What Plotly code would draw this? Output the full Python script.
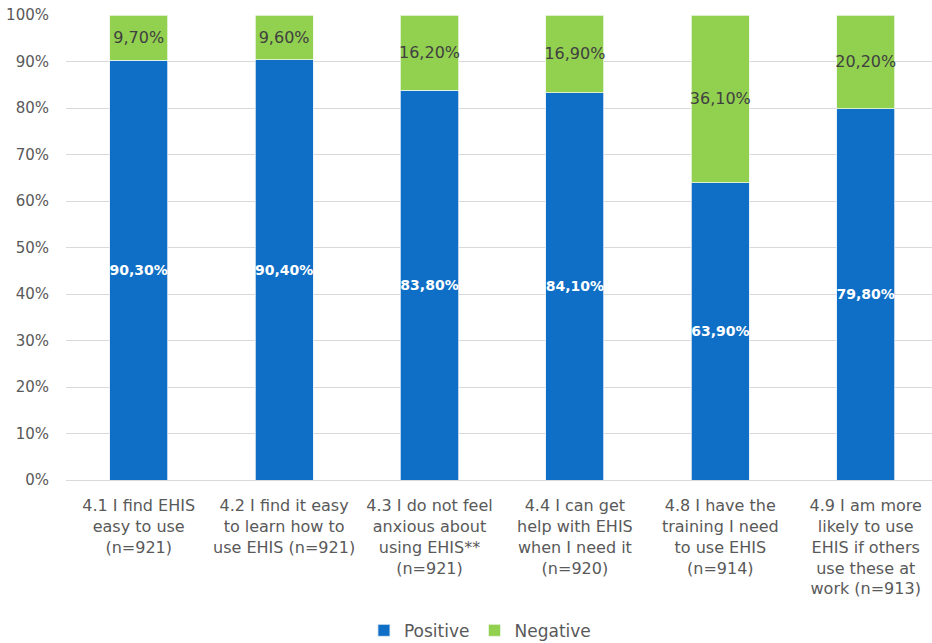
import plotly.graph_objects as go

categories = [
    "4.1 I find EHIS<br>easy to use<br>(n=921)",
    "4.2 I find it easy<br>to learn how to<br>use EHIS (n=921)",
    "4.3 I do not feel<br>anxious about<br>using EHIS**<br>(n=921)",
    "4.4 I can get<br>help with EHIS<br>when I need it<br>(n=920)",
    "4.8 I have the<br>training I need<br>to use EHIS<br>(n=914)",
    "4.9 I am more<br>likely to use<br>EHIS if others<br>use these at<br>work (n=913)",
]
positive = [90.3, 90.4, 83.8, 84.1, 63.9, 79.8]
negative = [9.7, 9.6, 16.2, 16.9, 36.1, 20.2]
y_ticks = [0, 10, 20, 30, 40, 50, 60, 70, 80, 90, 100]

FONT = "DejaVu Sans"


def pct_label(v):
    return f"{v:.2f}".replace(".", ",") + "%"


fig = go.Figure()
fig.add_trace(go.Bar(
    name="Positive",
    x=categories,
    y=positive,
    marker=dict(color="#0F6FC6", line=dict(color="#e6eef8", width=0.8)),
    text=[pct_label(v) for v in positive],
    textposition="inside",
    insidetextanchor="middle",
    textangle=0,
    constraintext="none",
    textfont=dict(family=FONT, size=14, color="white", weight="bold"),
    hoverinfo="skip",
))
fig.add_trace(go.Bar(
    name="Negative",
    x=categories,
    y=negative,
    marker=dict(color="#92D050", line=dict(color="#eef6e6", width=0.8)),
    text=[pct_label(v) for v in negative],
    textposition="inside",
    insidetextanchor="middle",
    textangle=0,
    constraintext="none",
    textfont=dict(family=FONT, size=16, color="#404040"),
    hoverinfo="skip",
))

fig.update_layout(
    width=932,
    height=643,
    barmode="stack",
    barnorm="percent",
    bargap=0.6,
    paper_bgcolor="white",
    plot_bgcolor="white",
    margin=dict(l=66, r=0, t=15, b=163, autoexpand=False),
    font=dict(family=FONT, size=15, color="#595959"),
    showlegend=True,
    legend=dict(
        orientation="h",
        x=0.478, xanchor="center",
        yref="container",
        y=0.019, yanchor="middle",
        font=dict(family=FONT, size=17, color="#595959"),
        itemwidth=30,
        traceorder="normal",
    ),
)
fig.update_xaxes(
    range=[-0.5, 5.456],
    automargin=False,
    showgrid=False,
    showline=True,
    linecolor="#d9d9d9",
    linewidth=1,
    ticks="",
    tickangle=0,
    tickfont=dict(family=FONT, size=16, color="#595959"),
    ticklabelstandoff=11,
)
fig.update_yaxes(
    range=[0, 100],
    automargin=False,
    tickvals=y_ticks,
    ticktext=[f"{v}%" for v in y_ticks],
    showgrid=True,
    gridcolor="#d9d9d9",
    gridwidth=1,
    zeroline=False,
    showline=False,
    ticks="",
    tickfont=dict(family=FONT, size=15, color="#595959"),
    ticklabelstandoff=16,
)

fig.write_html("out.html")
